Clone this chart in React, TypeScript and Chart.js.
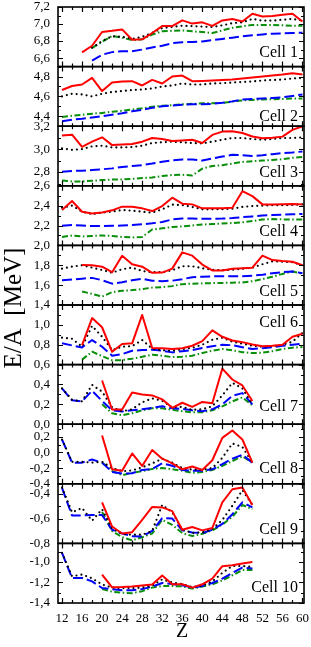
import React, { useEffect, useRef } from 'react';
import { Chart, registerables } from 'chart.js';

Chart.register(...registerables);

const _ = null;
const FONT = '"Liberation Serif", "Times New Roman", serif';

// Proton number Z (x axis)
const Z = [12, 14, 16, 18, 20, 22, 24, 26, 28, 30, 32, 34, 36, 38, 40, 42, 44, 46, 48, 50, 52, 54, 56, 58, 60];
const X_TICKS = [12, 16, 20, 24, 28, 32, 36, 40, 44, 48, 52, 56, 60];
const X_MIN = 11.2;
const X_MAX = 60.3;

const CELL_NAMES = ['Cell 1', 'Cell 2', 'Cell 3', 'Cell 4', 'Cell 5', 'Cell 6', 'Cell 7', 'Cell 8', 'Cell 9', 'Cell 10'];
const Y_MIN = [6.5, 4.3, 2.68, 2.0, 1.4, 0.6, 0.0, -0.4, -0.8, -1.4];
const Y_MAX = [7.2, 4.9, 3.2, 2.6, 2.0, 1.2, 0.6, 0.36, -0.32, -0.82];
const Y_TICKS = [
  [6.6, 6.8, 7.0, 7.2],
  [4.4, 4.6, 4.8],
  [2.8, 3.0, 3.2],
  [2.2, 2.4, 2.6],
  [1.4, 1.6, 1.8, 2.0],
  [0.6, 0.8, 1.0],
  [0.0, 0.2, 0.4],
  [-0.4, -0.2, 0.0, 0.2],
  [-0.8, -0.6, -0.4],
  [-1.4, -1.2, -1.0],
];

// E/A [MeV] per cell: solid (red), dotted (black), dashed (blue), dash-dot (green)
const C1_SOLID = [_, _, 6.667, 6.745, 6.906, 6.92, 6.937, 6.816, 6.82, 6.894, 6.976, 6.976, 7.043, 7.005, 7.02, 6.978, 7.042, 7.058, 7.03, 7.12, 7.088, 7.094, 7.108, 7.12, 7.03];
const C1_DOT = [_, _, _, 6.72, 6.80, 6.855, 6.85, 6.825, 6.85, 6.895, 6.953, 6.965, 6.98, 6.975, 6.97, 6.965, 6.985, 7.01, 7.02, 7.06, 7.04, 7.04, 7.05, 7.06, 7.04];
const C1_DASH = [_, _, _, 6.57, 6.64, 6.67, 6.68, 6.68, 6.70, 6.725, 6.745, 6.775, 6.785, 6.79, 6.795, 6.81, 6.825, 6.84, 6.855, 6.867, 6.878, 6.886, 6.89, 6.894, 6.898];
const C1_DASHDOT = [_, _, _, 6.72, 6.79, 6.86, 6.84, 6.81, 6.82, 6.875, 6.914, 6.92, 6.925, 6.915, 6.905, 6.895, 6.925, 6.955, 6.973, 6.99, 6.99, 6.99, 6.985, 6.98, 6.98];

const C2_SOLID = [4.664, 4.705, 4.72, 4.787, 4.654, 4.74, 4.75, 4.753, 4.71, 4.766, 4.73, 4.8, 4.81, 4.753, 4.756, 4.76, 4.766, 4.77, 4.78, 4.79, 4.8, 4.81, 4.82, 4.834, 4.82];
const C2_DOT = [4.6, 4.627, 4.62, 4.6, 4.627, 4.644, 4.654, 4.664, 4.67, 4.68, 4.7, 4.71, 4.73, 4.72, 4.72, 4.73, 4.733, 4.74, 4.745, 4.75, 4.76, 4.765, 4.77, 4.78, 4.786];
const C2_DASH = [4.35, 4.365, 4.375, 4.388, 4.4, 4.415, 4.43, 4.45, 4.465, 4.485, 4.5, 4.508, 4.515, 4.52, 4.52, 4.525, 4.535, 4.55, 4.57, 4.575, 4.58, 4.585, 4.59, 4.605, 4.62];
const C2_DASHDOT = [4.393, 4.405, 4.415, 4.425, 4.434, 4.445, 4.455, 4.468, 4.48, 4.495, 4.505, 4.512, 4.52, 4.525, 4.53, 4.532, 4.535, 4.548, 4.56, 4.565, 4.57, 4.572, 4.575, 4.578, 4.58];

const C3_SOLID = [3.118, 3.126, 3.02, 3.065, 3.103, 3.035, 3.04, 3.044, 3.065, 3.097, 3.088, 3.07, 3.076, 3.082, 3.053, 3.124, 3.153, 3.156, 3.141, 3.11, 3.094, 3.1, 3.109, 3.168, 3.2];
const C3_DOT = [3.006, 2.994, 3.0, 3.024, 3.03, 3.015, 3.015, 3.018, 3.03, 3.053, 3.06, 3.065, 3.06, 3.053, 3.05, 3.065, 3.082, 3.097, 3.097, 3.088, 3.082, 3.088, 3.097, 3.097, 3.103];
const C3_DASH = [2.803, 2.81, 2.812, 2.818, 2.824, 2.832, 2.844, 2.853, 2.86, 2.874, 2.89, 2.903, 2.91, 2.91, 2.9, 2.918, 2.935, 2.95, 2.947, 2.94, 2.947, 2.956, 2.965, 2.97, 2.98];
const C3_DASHDOT = [2.726, 2.718, 2.718, 2.724, 2.73, 2.735, 2.735, 2.74, 2.747, 2.753, 2.765, 2.774, 2.776, 2.77, 2.83, 2.853, 2.86, 2.874, 2.888, 2.894, 2.9, 2.906, 2.912, 2.924, 2.932];

const C4_SOLID = [2.356, 2.447, 2.339, 2.322, 2.332, 2.353, 2.39, 2.39, 2.373, 2.346, 2.396, 2.48, 2.42, 2.413, 2.373, 2.375, 2.375, 2.38, 2.546, 2.496, 2.413, 2.413, 2.415, 2.418, 2.413];
const C4_DOT = [2.38, 2.40, 2.34, 2.315, 2.33, 2.34, 2.356, 2.35, 2.339, 2.33, 2.363, 2.41, 2.406, 2.387, 2.363, 2.363, 2.365, 2.37, 2.387, 2.396, 2.4, 2.405, 2.405, 2.408, 2.413];
const C4_DASH = [2.197, 2.205, 2.2, 2.195, 2.195, 2.197, 2.2, 2.205, 2.212, 2.222, 2.235, 2.262, 2.27, 2.27, 2.268, 2.268, 2.27, 2.275, 2.285, 2.292, 2.3, 2.305, 2.31, 2.314, 2.316];
const C4_DASHDOT = [2.085, 2.1, 2.09, 2.095, 2.1, 2.095, 2.085, 2.08, 2.085, 2.16, 2.172, 2.185, 2.192, 2.2, 2.21, 2.215, 2.22, 2.225, 2.232, 2.245, 2.26, 2.265, 2.262, 2.26, 2.26];

const C5_SOLID = [_, _, 1.803, 1.8, 1.786, 1.73, 1.896, 1.81, 1.786, 1.724, 1.726, 1.766, 1.93, 1.897, 1.807, 1.748, 1.748, 1.766, 1.77, 1.776, 1.897, 1.852, 1.842, 1.835, 1.8];
const C5_DOT = [1.766, 1.786, 1.8, 1.776, 1.752, 1.725, 1.76, 1.776, 1.742, 1.73, 1.73, 1.75, 1.79, 1.79, 1.77, 1.755, 1.75, 1.755, 1.765, 1.776, 1.81, 1.84, 1.835, 1.83, 1.8];
const C5_DASH = [1.65, 1.656, 1.665, 1.673, 1.65, 1.615, 1.63, 1.65, 1.663, 1.645, 1.64, 1.645, 1.66, 1.68, 1.685, 1.688, 1.69, 1.69, 1.69, 1.695, 1.705, 1.72, 1.73, 1.738, 1.72];
const C5_DASHDOT = [_, _, 1.536, 1.512, 1.485, 1.53, 1.543, 1.55, 1.56, 1.575, 1.58, 1.59, 1.61, 1.615, 1.618, 1.62, 1.622, 1.625, 1.627, 1.64, 1.66, 1.685, 1.713, 1.738, 1.713];

const C6_SOLID = [_, _, 0.797, 1.068, 0.976, 0.729, 0.807, 0.814, 1.1, 0.767, 0.765, 0.757, 0.765, 0.79, 0.836, 0.945, 0.88, 0.843, 0.826, 0.802, 0.785, 0.79, 0.8, 0.88, 0.91];
const C6_DOT = [0.871, 0.86, 0.78, 0.99, 0.88, 0.746, 0.78, 0.786, 0.847, 0.76, 0.745, 0.74, 0.755, 0.77, 0.8, 0.85, 0.87, 0.83, 0.81, 0.79, 0.78, 0.785, 0.8, 0.83, 0.92];
const C6_DASH = [0.814, 0.793, 0.773, 0.847, 0.78, 0.69, 0.705, 0.74, 0.746, 0.75, 0.74, 0.723, 0.735, 0.745, 0.767, 0.785, 0.8, 0.795, 0.775, 0.757, 0.765, 0.775, 0.79, 0.8, 0.812];
const C6_DASHDOT = [_, _, 0.65, 0.73, 0.685, 0.644, 0.645, 0.66, 0.678, 0.7, 0.69, 0.675, 0.68, 0.69, 0.716, 0.74, 0.757, 0.745, 0.725, 0.716, 0.72, 0.735, 0.757, 0.77, 0.777];

const C7_SOLID = [_, _, _, _, 0.44, 0.148, 0.148, 0.32, 0.30, 0.29, 0.25, 0.165, 0.216, 0.175, 0.224, 0.21, 0.56, 0.45, 0.39, 0.234, _, _, _, _, _];
const C7_DOT = [0.36, 0.245, 0.23, 0.396, 0.327, 0.17, 0.13, 0.15, 0.22, 0.26, 0.235, 0.17, 0.175, 0.145, 0.15, 0.18, 0.29, 0.416, 0.36, 0.2, _, _, _, _, _];
const C7_DASH = [0.36, 0.24, 0.23, 0.337, 0.234, 0.14, 0.127, 0.14, 0.15, 0.165, 0.18, 0.16, 0.155, 0.14, 0.13, 0.15, 0.2, 0.286, 0.313, 0.2, _, _, _, _, _];
const C7_DASHDOT = [_, _, _, _, 0.2, 0.11, 0.09, 0.11, 0.14, 0.16, 0.16, 0.145, 0.13, 0.12, 0.12, 0.14, 0.18, 0.23, 0.27, 0.19, _, _, _, _, _];

const C8_SOLID = [_, _, _, _, 0.215, -0.215, -0.235, -0.013, -0.173, 0.03, -0.08, -0.14, -0.215, -0.18, -0.224, -0.1, 0.185, 0.28, 0.165, -0.13, _, _, _, _, _];
const C8_DOT = [0.165, -0.12, -0.12, -0.13, -0.12, -0.2, -0.24, -0.23, -0.19, -0.14, -0.08, -0.13, -0.2, -0.22, -0.22, -0.2, -0.07, 0.114, 0.07, -0.13, _, _, _, _, _];
const C8_DASH = [0.165, -0.13, -0.13, -0.09, -0.13, -0.25, -0.27, -0.265, -0.224, -0.21, -0.14, -0.17, -0.224, -0.234, -0.234, -0.215, -0.15, -0.08, -0.03, -0.13, _, _, _, _, _];
const C8_DASHDOT = [_, _, _, _, -0.13, -0.235, -0.29, -0.26, -0.24, -0.21, -0.2, -0.215, -0.234, -0.26, -0.25, -0.224, -0.17, -0.11, -0.05, -0.13, _, _, _, _, _];

const C9_SOLID = [_, _, _, _, -0.47, -0.664, -0.72, -0.71, -0.61, -0.506, -0.51, -0.54, -0.69, -0.668, -0.695, -0.676, -0.469, -0.364, -0.35, -0.491, _, _, _, _, _];
const C9_DOT = [-0.35, -0.55, -0.515, -0.617, -0.525, -0.68, -0.725, -0.73, -0.73, -0.7, -0.49, -0.55, -0.69, -0.715, -0.712, -0.685, -0.612, -0.497, -0.372, -0.49, _, _, _, _, _];
const C9_DASH = [-0.353, -0.575, -0.575, -0.572, -0.572, -0.69, -0.72, -0.742, -0.745, -0.7, -0.597, -0.6, -0.695, -0.712, -0.717, -0.69, -0.643, -0.565, -0.469, -0.51, _, _, _, _, _];
const C9_DASHDOT = [_, _, _, _, -0.547, -0.7, -0.75, -0.775, -0.75, -0.72, -0.61, -0.65, -0.717, -0.74, -0.723, -0.695, -0.648, -0.585, -0.491, -0.524, _, _, _, _, _];

const C10_SOLID = [_, _, _, _, -1.123, -1.247, -1.245, -1.24, -1.23, -1.22, -1.133, -1.218, -1.218, -1.25, -1.218, -1.163, -1.042, -1.033, -1.016, -1.0, _, _, _, _, _];
const C10_DOT = [-0.912, -1.14, -1.123, -1.16, -1.22, -1.25, -1.255, -1.255, -1.25, -1.23, -1.17, -1.2, -1.215, -1.245, -1.23, -1.19, -1.107, -1.04, -1.04, -1.05, _, _, _, _, _];
const C10_DASH = [-0.912, -1.156, -1.156, -1.19, -1.254, -1.265, -1.275, -1.275, -1.265, -1.24, -1.205, -1.215, -1.228, -1.25, -1.235, -1.205, -1.163, -1.107, -1.055, -1.065, _, _, _, _, _];
const C10_DASHDOT = [_, _, _, _, -1.265, -1.29, -1.3, -1.305, -1.285, -1.25, -1.235, -1.235, -1.238, -1.26, -1.24, -1.218, -1.18, -1.13, -1.08, -1.08, _, _, _, _, _];

const SERIES = [
  [C1_SOLID, C1_DOT, C1_DASH, C1_DASHDOT],
  [C2_SOLID, C2_DOT, C2_DASH, C2_DASHDOT],
  [C3_SOLID, C3_DOT, C3_DASH, C3_DASHDOT],
  [C4_SOLID, C4_DOT, C4_DASH, C4_DASHDOT],
  [C5_SOLID, C5_DOT, C5_DASH, C5_DASHDOT],
  [C6_SOLID, C6_DOT, C6_DASH, C6_DASHDOT],
  [C7_SOLID, C7_DOT, C7_DASH, C7_DASHDOT],
  [C8_SOLID, C8_DOT, C8_DASH, C8_DASHDOT],
  [C9_SOLID, C9_DOT, C9_DASH, C9_DASHDOT],
  [C10_SOLID, C10_DOT, C10_DASH, C10_DASHDOT],
];

const STYLES = [
  { color: '#ff0000', dash: [] as number[], width: 2, cap: 'butt' },
  { color: '#000000', dash: [0, 5], width: 2.2, cap: 'round' },
  { color: '#0000ff', dash: [10, 4], width: 2, cap: 'butt' },
  { color: '#0a8f0a', dash: [6, 2.5, 1.5, 2.5], width: 2, cap: 'butt' },
];

// label placement: 'b' = from panel bottom, 't' = from panel top
const LABEL_ANCHOR = ['b', 'b', 'b', 'b', 'b', 't', 'b', 'b', 'b', 'b'];
const LABEL_DY = [-9.5, -5.5, -8.5, -9.5, -9.5, 22, -13, -11, -9.5, -11];

const fmt = (v: number) => Number(v).toFixed(1).replace('.', ',');

const framePlugin = {
  id: 'panelFrames',
  afterDraw(chart: any) {
    const ctx = chart.ctx as CanvasRenderingContext2D;
    const xs = chart.scales.x;
    const left = xs.left;
    const right = xs.right;
    ctx.save();
    ctx.strokeStyle = '#000';
    ctx.fillStyle = '#000';
    for (let p = 0; p < SERIES.length; p++) {
      const ys = chart.scales['y' + p];
      const top = ys.top;
      const bottom = ys.bottom;
      ctx.lineWidth = 1.2;
      ctx.beginPath();
      // x ticks every 2, major every 4
      for (let z = X_TICKS[0]; z <= X_TICKS[X_TICKS.length - 1]; z += 2) {
        const px = Math.round(xs.getPixelForValue(z)) + 0.5;
        const len = X_TICKS.includes(z) ? 5 : 3;
        ctx.moveTo(px, top);
        ctx.lineTo(px, top + len);
        ctx.moveTo(px, bottom);
        ctx.lineTo(px, bottom - len);
      }
      // y ticks every 0.1, major every 0.2
      const kMin = Math.ceil(Y_MIN[p] * 10 - 1e-6);
      const kMax = Math.floor(Y_MAX[p] * 10 + 1e-6);
      for (let k = kMin; k <= kMax; k++) {
        const py = Math.round(ys.getPixelForValue(k / 10)) + 0.5;
        const len = k % 2 === 0 ? 5 : 3;
        ctx.moveTo(left, py);
        ctx.lineTo(left + len, py);
        ctx.moveTo(right, py);
        ctx.lineTo(right - len, py);
      }
      ctx.stroke();
      ctx.lineWidth = 1.6;
      ctx.strokeRect(left, top, right - left, bottom - top);

      ctx.font = `16px ${FONT}`;
      ctx.textAlign = 'right';
      ctx.textBaseline = 'alphabetic';
      const base = LABEL_ANCHOR[p] === 't' ? top + LABEL_DY[p] : bottom + LABEL_DY[p];
      ctx.fillText(CELL_NAMES[p], right - 6, base);
    }
    // axis titles
    ctx.font = `20px ${FONT}`;
    ctx.textAlign = 'center';
    ctx.textBaseline = 'alphabetic';
    ctx.fillText('Z', (left + right) / 2 + 1, 637);
    ctx.save();
    ctx.translate(20.5, 308);
    ctx.rotate(-Math.PI / 2);
    ctx.font = `25px ${FONT}`;
    ctx.fillText('E/A  [MeV]', 0, 0);
    ctx.restore();
    ctx.restore();
  },
};

export default function App() {
  const ref = useRef<HTMLCanvasElement>(null);
  useEffect(() => {
    const canvas = ref.current;
    if (!canvas) return;
    const datasets: any[] = [];
    SERIES.forEach((cell, p) => {
      cell.forEach((vals, s) => {
        const st = STYLES[s];
        datasets.push({
          label: `${CELL_NAMES[p]}-${s}`,
          data: Z.map((z, i) => ({ x: z, y: vals[i] })),
          yAxisID: 'y' + p,
          xAxisID: 'x',
          borderColor: st.color,
          backgroundColor: st.color,
          borderWidth: st.width,
          borderDash: st.dash,
          borderCapStyle: st.cap,
          borderJoinStyle: 'round',
          pointRadius: 0,
          pointHoverRadius: 0,
          fill: false,
          tension: 0,
          spanGaps: false,
          order: s,
        });
      });
    });

    const scales: any = {
      x: {
        type: 'linear',
        position: 'bottom',
        min: X_MIN,
        max: X_MAX,
        grid: { display: false, drawTicks: false },
        border: { display: false },
        ticks: {
          autoSkip: false,
          maxRotation: 0,
          minRotation: 0,
          padding: 8,
          color: '#000',
          font: { family: FONT, size: 13 },
          callback: (v: any) => String(v),
        },
        afterBuildTicks: (s: any) => {
          s.ticks = X_TICKS.map((v) => ({ value: v }));
        },
        afterFit: (s: any) => {
          s.height = 44;
          s.paddingLeft = 0;
          s.paddingRight = 0;
        },
      },
    };
    SERIES.forEach((_c, p) => {
      scales['y' + p] = {
        type: 'linear',
        position: 'left',
        stack: 'cells',
        stackWeight: 1,
        weight: SERIES.length - p,
        min: Y_MIN[p],
        max: Y_MAX[p],
        grid: { display: false, drawTicks: false },
        border: { display: false },
        ticks: {
          autoSkip: false,
          padding: 8,
          color: '#000',
          font: { family: FONT, size: 13 },
          callback: (v: any) => fmt(v),
        },
        afterBuildTicks: (s: any) => {
          s.ticks = Y_TICKS[p].map((v) => ({ value: v }));
        },
        afterFit: (s: any) => {
          s.width = 58;
          s.paddingTop = 0;
          s.paddingBottom = 0;
        },
      };
    });

    const chart = new Chart(canvas, {
      type: 'line',
      data: { datasets },
      options: {
        responsive: false,
        animation: false,
        devicePixelRatio: 1,
        layout: { padding: { top: 7, right: 7, bottom: 0, left: 0 } },
        plugins: { legend: { display: false }, tooltip: { enabled: false } },
        events: [],
        scales,
      },
      plugins: [framePlugin],
    } as any);
    return () => chart.destroy();
  }, []);

  return (
    <div style={{ position: 'absolute', left: 0, top: 0, width: 311, height: 647, background: '#fff' }}>
      <canvas ref={ref} width={311} height={647} style={{ display: 'block' }} />
    </div>
  );
}
